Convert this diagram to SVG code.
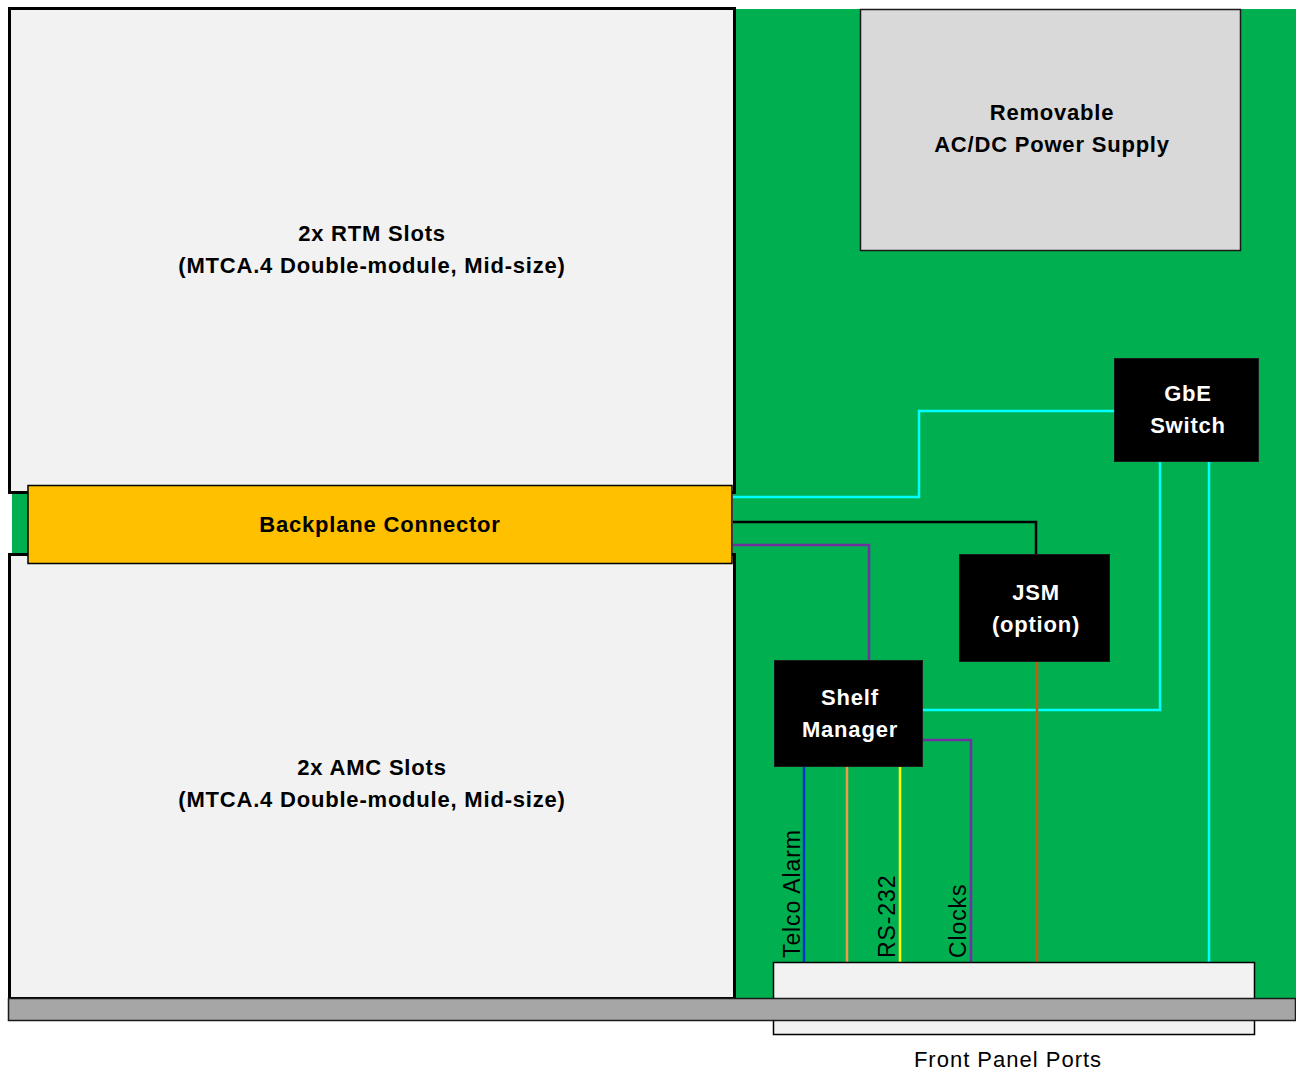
<svg xmlns="http://www.w3.org/2000/svg" width="1296" height="1074" viewBox="0 0 1296 1074">
<style>
.t{font-family:"Liberation Sans","Open Sans",sans-serif;font-size:22px;font-weight:bold;letter-spacing:0.8px;text-anchor:middle;dominant-baseline:middle}
.w{fill:#fff}
.k{fill:#000}
.r{font-family:"Liberation Sans","Open Sans",sans-serif;font-size:23px;letter-spacing:0.9px;fill:#000}
.blk{fill:#000;stroke:#1a1a1a;stroke-width:1}
.c{fill:none;stroke-width:2.5}
</style>
<rect width="1296" height="1074" fill="#fff"/>
<g id="board">
<rect x="733" y="9" width="563" height="990" fill="#00b050"/>
<rect x="12" y="492" width="20" height="62" fill="#00b050"/>
</g>
<g id="rtm">
<rect x="9.5" y="8.5" width="725" height="484" fill="#f2f2f2" stroke="#000" stroke-width="3"/>
<text class="t k" x="372" y="235">2x RTM Slots</text>
<text class="t k" x="372" y="267">(MTCA.4 Double-module, Mid-size)</text>
</g>
<g id="amc">
<rect x="9.5" y="554.5" width="725" height="444" fill="#f2f2f2" stroke="#000" stroke-width="3"/>
<text class="t k" x="372" y="769">2x AMC Slots</text>
<text class="t k" x="372" y="801">(MTCA.4 Double-module, Mid-size)</text>
</g>
<g id="backplane">
<rect x="28" y="485.5" width="704" height="78" fill="#ffc000" stroke="#000" stroke-width="1.5"/>
<text class="t k" x="380" y="526">Backplane Connector</text>
</g>
<g id="psu">
<rect x="860.5" y="9.5" width="380" height="241" fill="#d9d9d9" stroke="#1a1a1a" stroke-width="1.5"/>
<text class="t k" x="1052" y="114">Removable</text>
<text class="t k" x="1052" y="146">AC/DC Power Supply</text>
</g>
<g id="connectors">
<polyline class="c" stroke="#00ffff" points="733,497 919,497 919,411 1114,411"/>
<polyline class="c" stroke="#000" points="733,522 1036,522 1036,555"/>
<polyline class="c" stroke="#7030a0" points="733,545 869,545 869,661"/>
<polyline class="c" stroke="#00ffff" points="923,710 1160,710 1160,462"/>
<polyline class="c" stroke="#00ffff" points="1209,462 1209,962"/>
<polyline class="c" stroke="#7030a0" points="923,740 971,740 971,962"/>
<polyline class="c" stroke="#c55a11" points="1037,662 1037,962"/>
<polyline class="c" stroke="#0033cc" points="804,767 804,962"/>
<polyline class="c" stroke="#ed9d4a" points="847,767 847,962"/>
<polyline class="c" stroke="#ffff00" points="900,767 900,962"/>
<text class="r" transform="translate(800,958) rotate(-90)">Telco Alarm</text>
<text class="r" transform="translate(895,958) rotate(-90)">RS-232</text>
<text class="r" transform="translate(966,958) rotate(-90)">Clocks</text>
</g>
<g id="gbe">
<rect class="blk" x="1114.5" y="358.5" width="144" height="103"/>
<text class="t w" x="1188" y="395">GbE</text>
<text class="t w" x="1188" y="427">Switch</text>
</g>
<g id="jsm">
<rect class="blk" x="959.5" y="554.5" width="150" height="107"/>
<text class="t w" x="1036" y="594">JSM</text>
<text class="t w" x="1036" y="626">(option)</text>
</g>
<g id="shelf">
<rect class="blk" x="774.5" y="660.5" width="148" height="106"/>
<text class="t w" x="850" y="699">Shelf</text>
<text class="t w" x="850" y="731">Manager</text>
</g>
<g id="ports">
<rect x="773.5" y="962.5" width="481" height="72" fill="#f2f2f2" stroke="#000" stroke-width="1.5"/>
<text x="1008" y="1061" font-family="Liberation Sans, Open Sans, sans-serif" font-size="22" letter-spacing="1" text-anchor="middle" dominant-baseline="middle" fill="#000">Front Panel Ports</text>
</g>
<g id="chassis">
<rect x="8.5" y="998.5" width="1287" height="22" fill="#a6a6a6" stroke="#1a1a1a" stroke-width="1.5"/>
</g>
</svg>
